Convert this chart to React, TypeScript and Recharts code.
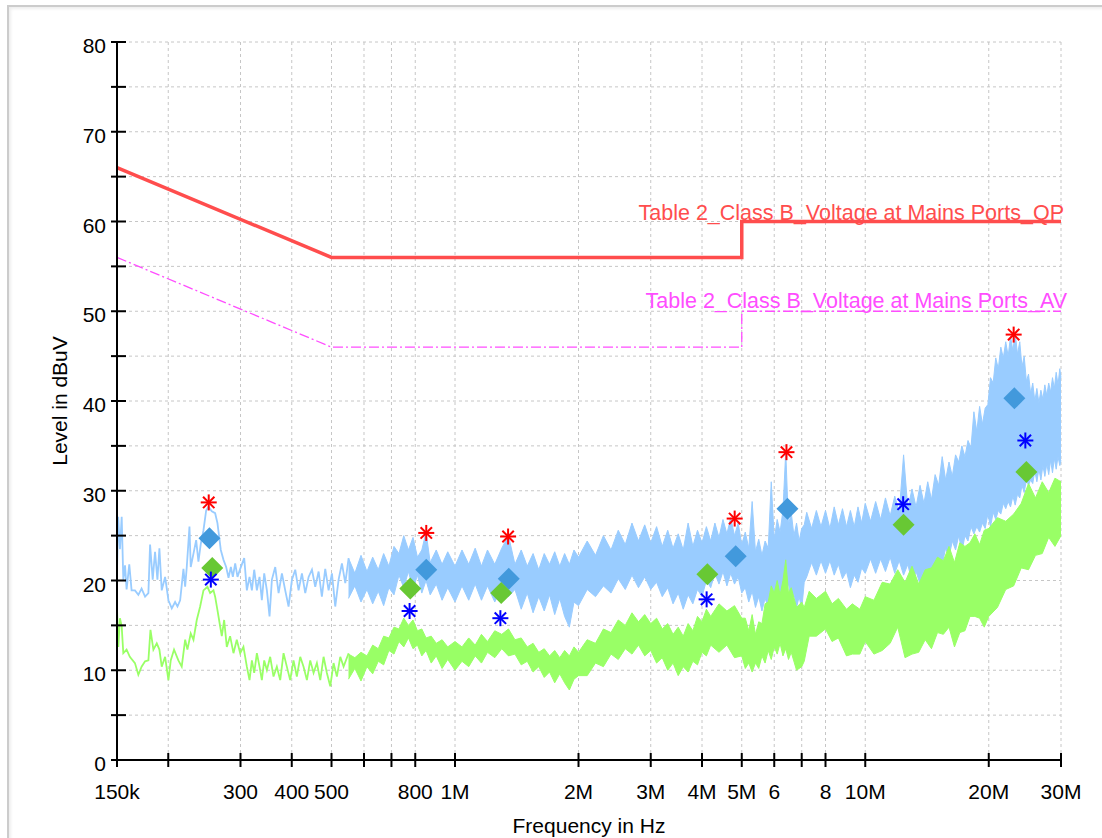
import { Area, CartesianGrid, ComposedChart, Line, XAxis, YAxis } from "recharts";

const FONT = "'Liberation Sans', Arial, Helvetica, sans-serif";

// axis ticks
const xTicks = [150e3, 200e3, 300e3, 400e3, 500e3, 600e3, 700e3, 800e3, 1e6, 2e6, 3e6, 4e6, 5e6, 6e6, 7e6, 8e6, 10e6, 20e6, 30e6];
const xTickText = ["150k", "", "300", "400", "500", "", "", "800", "1M", "2M", "3M", "4M", "5M", "6", "", "8", "10M", "20M", "30M"];
const yTicks = [0, 5, 10, 15, 20, 25, 30, 35, 40, 45, 50, 55, 60, 65, 70, 75, 80];

// limit lines (Hz, dBuV)
const limitFreq = [150e3, 500e3, 5e6, 5e6, 30e6];
const qpLimit = [66, 56, 56, 60, 60];
const avLimit = [56, 46, 46, 50, 50];
const qpLabel = "Table 2_Class B_Voltage at Mains Ports_QP";
const avLabel = "Table 2_Class B_Voltage at Mains Ports_AV";

// peak sweep, low band (kHz, dBuV)
const pkSweep: [number, number][] = [
  [150, 21.0], [151, 27.1], [152.5, 23.5], [154, 27.1], [155.4, 20.1], [156.9, 21.7], [158.3, 19.0], [160.7, 21.8],
  [162.8, 18.9], [165.9, 18.9], [169.1, 18.4], [172.2, 19.1], [175.6, 18.2], [178.9, 18.6], [180.6, 24.0], [183.3, 20.1],
  [185.7, 23.2], [188.2, 20.1], [190.3, 23.6], [192.8, 18.9], [196.5, 20.4], [200.2, 17.8], [204, 16.9], [207.8, 17.6],
  [210.6, 17.1], [213.8, 17.8], [217.8, 21.3], [219.9, 19.3], [221.9, 21.5], [225.3, 26.0], [226.9, 21.5], [230.4, 23.0],
  [233.9, 24.5], [236.9, 22.1], [240.1, 24.1], [243.7, 25.6], [247.4, 27.8], [250.6, 28.2], [255.4, 27.7], [260.2, 27.5],
  [263.6, 26.4], [268.6, 23.4], [272.7, 22.3], [276.8, 21.5], [280.5, 20.3], [284.2, 21.5], [287.4, 20.4], [291.2, 21.9],
  [295, 20.4], [299.5, 21.3], [306.3, 22.5], [310.9, 18.9], [315.6, 20.4], [319.8, 18.9], [324, 21.2], [328.9, 18.9],
  [333.8, 20.4], [338.2, 17.8], [342.7, 20.8], [347.9, 18.9], [353.1, 16.0], [357.8, 20.1], [364.6, 21.5], [371.5, 18.6],
  [378.5, 20.8], [385.6, 18.9], [392.9, 17.1], [400.4, 20.1], [407.9, 21.2], [415.6, 18.9], [423.5, 20.8], [431.5, 18.6],
  [439.7, 20.4], [448, 21.2], [456.4, 19.3], [465.1, 21.0], [473.7, 18.2], [482.7, 21.3], [491.9, 18.9], [501.2, 20.8],
  [510.6, 17.1], [520.3, 20.1], [530.1, 21.9], [540.2, 19.7], [550.4, 22.5],
];

// peak sweep, dense part: kHz, min, max
const pkBand: [number, number, number][] = [
  [550, 18.0, 22.5], [570, 19.4, 20.8], [590, 17.6, 22.8], [610, 19.0, 21.0], [630, 17.4, 22.6], [650, 18.8, 21.2],
  [670, 17.2, 23.0], [690, 19.2, 21.6], [710, 18.4, 23.8], [730, 20.6, 23.0], [750, 19.2, 25.0], [770, 21.0, 23.4],
  [790, 19.0, 24.8], [810, 20.6, 22.6], [830, 18.6, 23.4], [850, 20.0, 25.4], [870, 18.4, 22.0], [900, 19.6, 23.4],
  [930, 17.8, 21.8], [960, 19.2, 23.2], [1000, 17.6, 21.6], [1040, 19.4, 23.4], [1080, 17.8, 21.8], [1120, 19.6, 23.6],
  [1160, 17.8, 21.6], [1200, 19.4, 23.4], [1250, 17.6, 21.8], [1300, 19.2, 23.6], [1350, 18.2, 25.0], [1400, 19.0, 21.8],
  [1450, 16.8, 23.4], [1500, 18.6, 21.6], [1550, 16.4, 23.0], [1600, 18.2, 21.2], [1650, 16.6, 23.0], [1700, 18.4, 21.8],
  [1750, 16.2, 23.2], [1800, 18.0, 21.6], [1850, 16.0, 23.0], [1900, 14.8, 21.8], [1950, 17.6, 23.4], [2000, 17.2, 22.6],
  [2100, 19.0, 24.4], [2200, 18.2, 22.8], [2300, 19.4, 25.0], [2400, 18.6, 23.4], [2500, 20.2, 25.6], [2600, 19.0, 24.0],
  [2700, 20.6, 26.4], [2800, 19.2, 24.4], [2900, 20.4, 26.2], [3000, 19.0, 24.2], [3100, 19.8, 26.0], [3200, 18.2, 23.8],
  [3300, 19.2, 25.6], [3400, 17.4, 23.6], [3500, 18.6, 25.2], [3600, 16.8, 23.4], [3700, 18.4, 26.4], [3800, 17.4, 23.8],
  [3900, 19.0, 25.6], [4000, 18.2, 24.2], [4100, 20.0, 26.0], [4200, 19.2, 24.4], [4300, 20.8, 26.4], [4400, 19.6, 24.8],
  [4500, 21.0, 26.8], [4600, 19.4, 25.2], [4700, 20.8, 27.0], [4800, 19.6, 25.0], [4900, 20.4, 26.4], [5000, 18.6, 24.0],
  [5100, 19.2, 25.4], [5200, 17.6, 23.6], [5300, 18.8, 28.8], [5400, 17.0, 23.2], [5500, 18.2, 24.6], [5600, 16.6, 22.8],
  [5700, 18.0, 24.4], [5800, 17.0, 23.6], [5900, 18.4, 31.0], [6000, 17.6, 24.6], [6100, 19.4, 26.8], [6200, 18.4, 25.4],
  [6300, 19.8, 27.8], [6400, 19.0, 34.4], [6500, 19.6, 26.2], [6600, 17.8, 27.6], [6700, 18.6, 25.0], [6800, 17.0, 26.4],
  [6900, 18.2, 24.4], [7000, 16.8, 25.8], [7100, 19.8, 26.2], [7200, 20.4, 27.6], [7400, 22.0, 25.8], [7600, 20.6, 27.8],
  [7800, 22.2, 26.0], [8000, 20.8, 27.8], [8200, 22.2, 25.8], [8400, 20.6, 28.2], [8600, 21.8, 26.2], [8800, 20.2, 28.0],
  [9000, 21.0, 26.0], [9200, 19.2, 27.8], [9400, 20.6, 26.0], [9600, 19.8, 28.2], [9800, 21.4, 26.4], [10000, 20.8, 28.6],
  [10300, 22.4, 26.6], [10600, 20.8, 28.8], [10900, 22.4, 26.8], [11200, 21.0, 29.2], [11500, 22.6, 27.2], [11800, 20.8, 29.4],
  [12100, 22.2, 27.6], [12400, 20.6, 34.0], [12700, 21.8, 28.0], [13000, 19.8, 30.2], [13300, 21.0, 28.2], [13600, 19.6, 30.6],
  [13900, 20.8, 28.6], [14200, 19.6, 31.0], [14500, 20.8, 29.0], [14800, 20.6, 31.8], [15100, 22.6, 30.6], [15400, 21.8, 33.8],
  [15700, 23.6, 31.2], [16000, 22.6, 33.2], [16300, 24.4, 31.6], [16600, 23.4, 34.0], [16900, 25.0, 33.2], [17200, 23.2, 35.0],
  [17500, 25.0, 33.8], [17800, 24.4, 35.6], [18100, 26.0, 34.8], [18400, 25.2, 38.8], [18700, 26.0, 36.6], [19000, 25.4, 39.4],
  [19300, 26.4, 37.4], [19600, 25.8, 39.2], [19900, 27.4, 39.6], [20200, 26.0, 42.6], [20500, 27.6, 42.0], [20800, 26.8, 44.8],
  [21100, 27.8, 43.6], [21400, 27.4, 46.0], [21700, 28.6, 44.8], [22000, 28.0, 46.6], [22300, 28.8, 45.0], [22600, 28.2, 47.2],
  [22900, 29.4, 45.6], [23200, 28.4, 47.6], [23500, 29.6, 45.2], [23800, 29.2, 46.6], [24100, 30.6, 43.8], [24400, 29.8, 45.0],
  [24700, 31.2, 42.2], [25000, 30.6, 43.0], [25300, 31.2, 40.8], [25600, 30.8, 42.0], [25900, 32.2, 40.0], [26200, 31.0, 41.4],
  [26500, 32.4, 39.8], [26800, 31.2, 41.2], [27100, 32.8, 40.2], [27400, 31.6, 41.8], [27700, 33.0, 40.6], [28000, 31.8, 42.0],
  [28300, 33.4, 41.0], [28600, 32.0, 42.6], [28900, 33.6, 41.4], [29200, 32.4, 43.2], [29500, 33.8, 41.8], [29800, 32.8, 43.6],
  [30000, 33.4, 42.6],
];

// average sweep, low band (kHz, dBuV)
const avSweep: [number, number][] = [
  [150, 16.9], [151.1, 12.6], [152.5, 15.8], [154, 14.9], [155.4, 11.9], [158.3, 12.3], [161.2, 11.5], [165.9, 10.8],
  [169.1, 9.5], [172.2, 10.4], [175.6, 11.0], [178.9, 11.1], [181, 14.5], [184, 12.3], [187.5, 13.0], [190.3, 12.3],
  [192.8, 10.4], [196.5, 11.5], [200.2, 8.9], [202.8, 11.1], [206.6, 12.3], [211.7, 11.1], [215.7, 10.4], [219.9, 13.4],
  [222.7, 12.3], [226.9, 14.1], [230.4, 13.4], [234.7, 15.6], [239.2, 17.1], [243.7, 18.9], [249.2, 19.3], [253, 18.6],
  [257.8, 18.9], [260.2, 18.2], [263.6, 16.7], [267.6, 14.9], [270.1, 13.8], [273.7, 15.6], [277.8, 12.6], [283, 13.8],
  [288.4, 11.9], [293.8, 13.4], [299.5, 11.9], [305, 12.6], [310.9, 10.4], [315.6, 8.9], [319.8, 11.1], [324, 9.7],
  [328.9, 11.9], [333.8, 10.4], [338.2, 8.9], [342.7, 11.1], [347.9, 10.0], [354.4, 11.5], [361.1, 9.3], [367.9, 10.4],
  [374.9, 8.9], [382, 11.9], [389.1, 10.4], [396.5, 8.9], [404, 11.1], [411.6, 9.3], [419.5, 11.5], [427.4, 10.4],
  [435.5, 8.9], [443.7, 11.1], [452.1, 9.7], [460.6, 10.8], [469.4, 8.9], [478.2, 11.5], [487.2, 9.7], [496.5, 8.2],
  [505.8, 10.8], [515.3, 9.3], [525.2, 11.5], [535.1, 10.4], [550.4, 11.9],
];

// average sweep, dense part: kHz, min, max
const avBand: [number, number, number][] = [
  [550, 9.0, 11.8], [570, 10.2, 11.4], [590, 8.8, 12.0], [610, 10.4, 11.6], [630, 9.6, 12.8], [650, 11.0, 12.4],
  [670, 10.6, 13.8], [690, 12.2, 13.6], [710, 11.8, 14.8], [730, 13.2, 14.6], [750, 12.6, 15.8], [770, 13.6, 15.0],
  [790, 12.4, 15.6], [810, 12.8, 14.4], [830, 11.6, 14.6], [850, 12.2, 13.6], [875, 10.8, 13.8], [900, 11.6, 13.0],
  [930, 10.2, 13.4], [960, 11.2, 12.6], [1000, 10.0, 13.2], [1040, 11.0, 12.6], [1080, 10.4, 13.6], [1120, 11.6, 12.8],
  [1160, 10.8, 14.0], [1200, 12.0, 13.2], [1250, 11.4, 14.4], [1300, 12.4, 14.0], [1350, 11.6, 14.6], [1400, 11.8, 13.4],
  [1450, 10.6, 13.6], [1500, 11.0, 12.6], [1550, 9.8, 13.0], [1600, 10.4, 12.0], [1650, 9.2, 12.4], [1700, 9.8, 11.6],
  [1750, 8.6, 12.2], [1800, 9.6, 11.4], [1850, 8.6, 12.2], [1900, 7.8, 11.6], [1950, 9.0, 12.6], [2000, 9.4, 12.0],
  [2100, 9.4, 13.4], [2200, 10.8, 13.0], [2300, 10.4, 14.6], [2400, 11.8, 14.2], [2500, 11.2, 15.6], [2600, 12.4, 15.0],
  [2700, 11.8, 16.4], [2800, 12.8, 15.4], [2900, 11.6, 16.2], [3000, 12.2, 15.2], [3100, 10.8, 15.8], [3200, 11.4, 14.6],
  [3300, 10.0, 15.2], [3400, 10.8, 14.0], [3500, 9.4, 14.8], [3600, 10.4, 13.8], [3700, 9.8, 15.2], [3800, 11.0, 14.4],
  [3900, 10.6, 16.0], [4000, 12.0, 15.4], [4100, 11.6, 16.8], [4200, 12.8, 16.0], [4400, 12.0, 17.4], [4600, 12.8, 16.6],
  [4800, 11.4, 17.2], [5000, 11.6, 15.8], [5100, 10.2, 15.8], [5200, 10.8, 14.4], [5300, 9.8, 16.2], [5400, 10.8, 14.0],
  [5500, 10.2, 15.4], [5600, 11.6, 15.2], [5700, 10.8, 17.4], [5800, 12.2, 17.6], [5900, 11.2, 19.4], [6000, 12.6, 18.6],
  [6100, 11.8, 20.0], [6200, 13.0, 18.4], [6300, 11.6, 20.0], [6400, 12.4, 22.3], [6500, 11.2, 18.6], [6600, 12.0, 19.2],
  [6800, 10.0, 17.0], [7000, 10.4, 17.6], [7100, 11.0, 17.0], [7300, 13.8, 18.8], [7600, 13.8, 18.0], [8000, 14.6, 18.8],
  [8300, 13.2, 17.4], [8600, 13.6, 18.0], [9000, 11.6, 16.8], [9300, 11.8, 17.4], [9700, 11.8, 16.8], [10000, 13.2, 18.2],
  [10500, 11.8, 17.8], [11000, 12.2, 19.8], [11500, 13.0, 19.6], [12000, 14.8, 21.2], [12500, 11.4, 19.8], [13000, 11.8, 21.6],
  [13500, 12.0, 19.6], [14000, 13.4, 21.2], [14500, 12.4, 21.4], [15000, 14.2, 22.6], [15500, 14.0, 22.2], [16000, 14.8, 23.8],
  [16500, 12.6, 22.0], [17000, 14.2, 24.2], [17500, 14.4, 23.8], [18000, 16.0, 24.2], [18500, 16.0, 25.2], [19000, 15.8, 24.0],
  [19500, 14.8, 25.6], [20000, 16.0, 25.8], [21000, 17.0, 27.0], [22000, 19.0, 26.6], [23000, 19.4, 27.4], [24000, 21.4, 28.6],
  [25000, 21.2, 30.8], [26000, 22.8, 29.2], [27000, 23.0, 31.0], [28000, 24.8, 29.8], [29000, 23.8, 31.4], [30000, 25.0, 31.0],
];

// final measurement markers (kHz, dBuV)
const pkPeaks: [number, number][] = [[251, 28.7], [851, 25.3], [1347, 24.9], [4805, 26.9], [6426, 34.3], [23000, 47.4]];
const avPeaks: [number, number][] = [[254, 20.1], [775, 16.6], [1290, 15.8], [4105, 17.9], [12370, 28.5], [24560, 35.6]];
const qpFinal: [number, number][] = [[252, 24.7], [851, 21.2], [1352, 20.2], [4832, 22.7], [6462, 28.0], [23090, 40.3]];
const avFinal: [number, number][] = [[256, 21.4], [778, 19.1], [1296, 18.6], [4122, 20.7], [12400, 26.2], [24700, 32.1]];

const pts = (rows: [number, number][]) => rows.map(([k, v]) => ({ f: k * 1000, v }));
const band = (rows: [number, number, number][]) => rows.map(([k, lo, hi]) => ({ f: k * 1000, r: [lo, hi] }));
const limit = (levels: number[]) => limitFreq.map((f, i) => ({ f, v: levels[i] }));

function XTick(props: any) {
  const { x, y, payload } = props;
  const label = xTickText[xTicks.indexOf(payload.value)];
  return (
    <g>
      <line x1={x} x2={x} y1={y - 7} y2={y + 7} stroke="#000" strokeWidth={2} />
      {label ? (
        <text x={x} y={y + 39} textAnchor="middle" fontSize={21} fontFamily={FONT} fill="#000">
          {label}
        </text>
      ) : null}
    </g>
  );
}

function YTick(props: any) {
  const { x, y, payload } = props;
  const v = payload.value;
  return (
    <g>
      <line x1={x - 6} x2={x + 9} y1={y} y2={y} stroke="#000" strokeWidth={2} />
      {v % 10 === 0 ? (
        <text x={x - 11} y={y + 11} textAnchor="end" fontSize={21} fontFamily={FONT} fill="#000">
          {v}
        </text>
      ) : null}
    </g>
  );
}

function Asterisk({ cx, cy, color }: { cx: number; cy: number; color: string }) {
  const r = 8;
  const d = 5.7;
  return (
    <g stroke={color} strokeWidth={2}>
      <line x1={cx - r} x2={cx + r} y1={cy} y2={cy} />
      <line x1={cx} x2={cx} y1={cy - r} y2={cy + r} />
      <line x1={cx - d} x2={cx + d} y1={cy - d} y2={cy + d} />
      <line x1={cx - d} x2={cx + d} y1={cy + d} y2={cy - d} />
    </g>
  );
}

function Diamond({ cx, cy, color }: { cx: number; cy: number; color: string }) {
  const r = 11;
  return <polygon points={`${cx},${cy - r} ${cx + r},${cy} ${cx},${cy + r} ${cx - r},${cy}`} fill={color} />;
}

const starDot = (color: string) => (p: any) => <Asterisk key={p.index} cx={p.cx} cy={p.cy} color={color} />;
const diamondDot = (color: string) => (p: any) => <Diamond key={p.index} cx={p.cx} cy={p.cy} color={color} />;
const textDot = (text: string, color: string, dx: number, dy: number) => (p: any) => (
  <text key={p.index} x={p.cx + dx} y={p.cy + dy} textAnchor="end" fontSize={21.5} fontFamily={FONT} fill={color}>
    {text}
  </text>
);

export default function App() {
  return (
    <div style={{ position: "absolute", left: 0, top: 0, width: 1102, height: 838, overflow: "hidden", background: "#fff" }}>
      <div
        style={{
          position: "absolute",
          left: 7,
          top: 5,
          width: 1120,
          height: 870,
          border: "2px solid #cccccc",
          boxSizing: "border-box",
          boxShadow: "inset 2px 2px 3px #eeeeee",
        }}
      />
      <div style={{ position: "absolute", left: 0, top: 0 }}>
        <ComposedChart width={1102} height={838} margin={{ top: 42, right: 41, bottom: 0, left: 0 }}>
          <CartesianGrid stroke="#c6c6c6" strokeDasharray="3 3" />
          <XAxis
            dataKey="f"
            type="number"
            scale="log"
            domain={[150e3, 30e6]}
            ticks={xTicks}
            interval={0}
            height={78}
            tickLine={false}
            tickSize={0}
            tickMargin={0}
            tick={(p: any) => <XTick {...p} />}
            axisLine={{ stroke: "#000", strokeWidth: 2 }}
            label={{ value: "Frequency in Hz", position: "insideBottom", offset: 5, fill: "#000", fontSize: 21, fontFamily: FONT }}
          />
          <YAxis
            dataKey="v"
            type="number"
            domain={[0, 80]}
            ticks={yTicks}
            interval={0}
            width={117}
            tickLine={false}
            tickSize={0}
            tickMargin={0}
            tick={(p: any) => <YTick {...p} />}
            axisLine={{ stroke: "#000", strokeWidth: 2 }}
            label={{
              value: "Level in dBuV",
              angle: -90,
              position: "insideLeft",
              offset: 60,
              fill: "#000",
              fontSize: 21,
              fontFamily: FONT,
              style: { textAnchor: "middle" },
            }}
          />

          <Area data={band(pkBand)} dataKey="r" type="linear" stroke="#99ccff" strokeWidth={1} fill="#99ccff" fillOpacity={1} dot={false} activeDot={false} isAnimationActive={false} />
          <Line data={pts(pkSweep)} dataKey="v" type="linear" stroke="#99ccff" strokeWidth={1.8} dot={false} activeDot={false} isAnimationActive={false} />
          <Area data={band(avBand)} dataKey="r" type="linear" stroke="#99ff66" strokeWidth={1} fill="#99ff66" fillOpacity={1} dot={false} activeDot={false} isAnimationActive={false} />
          <Line data={pts(avSweep)} dataKey="v" type="linear" stroke="#99ff66" strokeWidth={1.8} dot={false} activeDot={false} isAnimationActive={false} />

          <Line data={limit(qpLimit)} dataKey="v" type="linear" stroke="#ff4d4d" strokeWidth={3.5} dot={false} activeDot={false} isAnimationActive={false} />
          <Line data={limit(avLimit)} dataKey="v" type="linear" stroke="#ff4dff" strokeWidth={1.3} strokeDasharray="10 3 2 3" dot={false} activeDot={false} isAnimationActive={false} />
          <Line data={[{ f: 30e6, v: 60 }]} dataKey="v" stroke="none" dot={textDot(qpLabel, "#ff4d4d", 3, -2)} activeDot={false} isAnimationActive={false} />
          <Line data={[{ f: 30e6, v: 50 }]} dataKey="v" stroke="none" dot={textDot(avLabel, "#ff4dff", 6, -3)} activeDot={false} isAnimationActive={false} />

          <Line data={pts(qpFinal)} dataKey="v" stroke="none" dot={diamondDot("#4299dc")} activeDot={false} isAnimationActive={false} />
          <Line data={pts(avFinal)} dataKey="v" stroke="none" dot={diamondDot("#68c834")} activeDot={false} isAnimationActive={false} />
          <Line data={pts(pkPeaks)} dataKey="v" stroke="none" dot={starDot("#ff0000")} activeDot={false} isAnimationActive={false} />
          <Line data={pts(avPeaks)} dataKey="v" stroke="none" dot={starDot("#0000ff")} activeDot={false} isAnimationActive={false} />
        </ComposedChart>
      </div>
    </div>
  );
}
